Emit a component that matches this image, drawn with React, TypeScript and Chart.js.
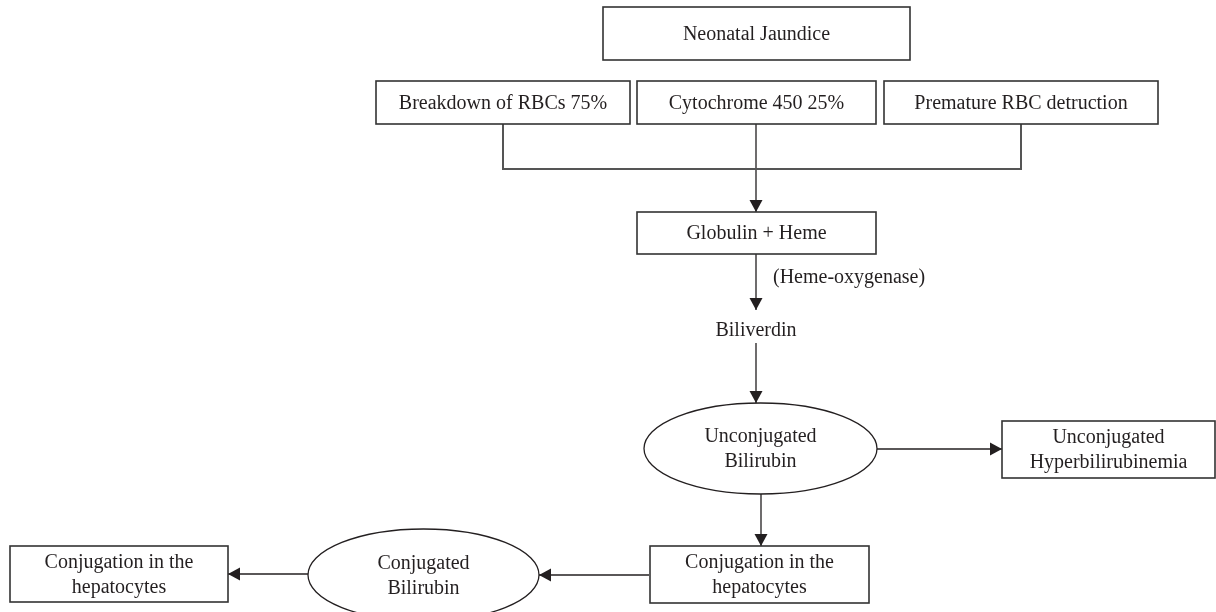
import React, { useEffect, useRef } from "react";
import { Chart, registerables } from "chart.js";

Chart.register(...registerables);

// ---- Flowchart nodes (data coordinates: x 0..1216, y 0..612 top-down) ----
const nodeLabels: string[][] = [
  ["Neonatal Jaundice"],
  ["Breakdown of RBCs 75%"],
  ["Cytochrome 450 25%"],
  ["Premature RBC detruction"],
  ["Globulin + Heme"],
  ["Biliverdin"],
  ["(Heme-oxygenase)"],
  ["Unconjugated", "Bilirubin"],
  ["Unconjugated", "Hyperbilirubinemia"],
  ["Conjugation in the", "hepatocytes"],
  ["Conjugated", "Bilirubin"],
  ["Conjugation in the", "hepatocytes"],
];
const nodeShape = ["rect", "rect", "rect", "rect", "rect", "text", "textLeft", "ellipse", "rect", "rect", "ellipse", "rect"];
const nodeX = [756.5, 503, 756.5, 1021, 756.5, 756, 773, 760.5, 1108.5, 759.5, 423.5, 119];
const nodeY = [33.5, 102.5, 102.5, 102.5, 233, 330, 277, 448.5, 449.5, 574.5, 575, 574];
const nodeW = [307, 254, 239, 274, 239, 0, 0, 233, 213, 219, 231, 218];
const nodeH = [53, 43, 43, 43, 42, 0, 0, 91, 57, 57, 92, 56];

// ---- Connector bracket (no arrow) ----
const bracketX = [503, 503, 1021, 1021];
const bracketY = [124, 169, 169, 124];

// ---- Arrows ----
const arrowFromX = [756, 756, 756, 877, 761, 649, 308];
const arrowFromY = [124, 254, 343, 449, 494, 575, 574];
const arrowToX = [756, 756, 756, 1002, 761, 539, 228];
const arrowToY = [212, 310, 403, 449, 546, 575, 574];

const INK = "#231f20";
const FONT = '20px "Liberation Serif", "DejaVu Serif", serif';

const flowPlugin = {
  id: "flowPlugin",
  afterDatasetsDraw(chart: any) {
    const ctx = chart.ctx as CanvasRenderingContext2D;
    const xs = chart.scales.x;
    const ys = chart.scales.y;

    // arrowheads at the end of every arrow dataset
    chart.data.datasets.forEach((ds: any, i: number) => {
      if (!ds.isArrow) return;
      const pts = chart.getDatasetMeta(i).data;
      const a = pts[pts.length - 2];
      const b = pts[pts.length - 1];
      const ang = Math.atan2(b.y - a.y, b.x - a.x);
      const L = 12;
      const W = 6.5;
      const c = Math.cos(ang);
      const s = Math.sin(ang);
      ctx.save();
      ctx.fillStyle = INK;
      ctx.beginPath();
      ctx.moveTo(b.x, b.y);
      ctx.lineTo(b.x - L * c - W * s, b.y - L * s + W * c);
      ctx.lineTo(b.x - L * c + W * s, b.y - L * s - W * c);
      ctx.closePath();
      ctx.fill();
      ctx.restore();
    });

    // nodes
    const nodeMeta = chart.getDatasetMeta(0).data;
    nodeLabels.forEach((lines, i) => {
      const p = nodeMeta[i];
      const cx = p.x;
      const cy = p.y;
      const left = xs.getPixelForValue(nodeX[i] - nodeW[i] / 2);
      const right = xs.getPixelForValue(nodeX[i] + nodeW[i] / 2);
      const top = ys.getPixelForValue(nodeY[i] - nodeH[i] / 2);
      const bottom = ys.getPixelForValue(nodeY[i] + nodeH[i] / 2);
      ctx.save();
      ctx.strokeStyle = "#333333";
      ctx.lineWidth = 1.6;
      if (nodeShape[i] === "rect") {
        ctx.strokeRect(left, top, right - left, bottom - top);
      } else if (nodeShape[i] === "ellipse") {
        ctx.beginPath();
        ctx.ellipse(cx, cy, (right - left) / 2, Math.abs(bottom - top) / 2, 0, 0, Math.PI * 2);
        ctx.lineWidth = 1.3;
        ctx.strokeStyle = INK;
        ctx.stroke();
      }
      ctx.fillStyle = INK;
      ctx.font = FONT;
      ctx.textAlign = nodeShape[i] === "textLeft" ? "left" : "center";
      ctx.textBaseline = "middle";
      const lh = 25;
      const y0 = cy - ((lines.length - 1) * lh) / 2;
      lines.forEach((t, k) => ctx.fillText(t, cx, y0 + k * lh + 1));
      ctx.restore();
    });
  },
};

export default function App() {
  const ref = useRef<HTMLCanvasElement | null>(null);

  useEffect(() => {
    if (!ref.current) return;
    const datasets: any[] = [
      {
        type: "scatter",
        label: "nodes",
        data: nodeX.map((x, i) => ({ x, y: nodeY[i] })),
        pointRadius: 0,
        showLine: false,
      },
      {
        type: "line",
        label: "bracket",
        data: bracketX.map((x, i) => ({ x, y: bracketY[i] })),
        borderColor: "#555555",
        borderWidth: 2,
        pointRadius: 0,
        fill: false,
        tension: 0,
      },
    ];
    arrowFromX.forEach((fx, i) => {
      datasets.push({
        type: "line",
        label: "arrow" + i,
        isArrow: true,
        data: [
          { x: fx, y: arrowFromY[i] },
          { x: arrowToX[i], y: arrowToY[i] },
        ],
        borderColor: INK,
        borderWidth: 1.3,
        pointRadius: 0,
        fill: false,
        tension: 0,
      });
    });

    const chart = new Chart(ref.current, {
      type: "scatter",
      data: { datasets },
      options: {
        animation: false,
        responsive: false,
        layout: { padding: 0 },
        plugins: { legend: { display: false }, tooltip: { enabled: false } },
        scales: {
          x: { type: "linear", min: 0, max: 1216, display: false },
          y: { type: "linear", min: 0, max: 612, reverse: true, display: false },
        },
      } as any,
      plugins: [flowPlugin as any],
    });
    return () => chart.destroy();
  }, []);

  return (
    <div style={{ position: "fixed", left: 0, top: 0, width: 1216, height: 612, background: "#ffffff" }}>
      <canvas ref={ref} width={1216} height={612} style={{ display: "block" }} />
    </div>
  );
}
